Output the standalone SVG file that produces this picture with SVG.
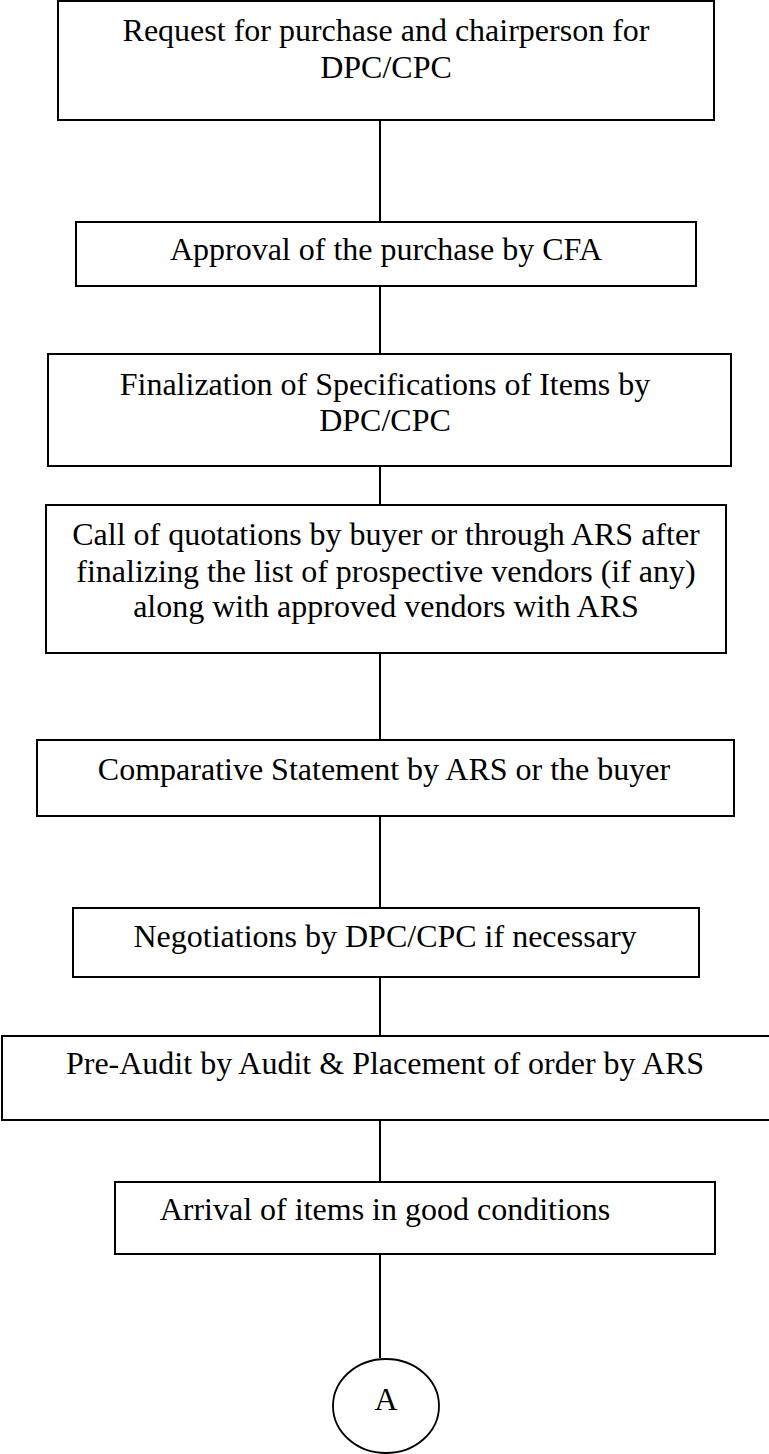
<svg xmlns="http://www.w3.org/2000/svg" width="769" height="1454" viewBox="0 0 769 1454">
<style>
.box{fill:#fff;stroke:#000;stroke-width:2}
.conn line{stroke:#000;stroke-width:2}
text{font-family:"Liberation Serif","Times New Roman",serif;font-size:32px;fill:#000;text-anchor:middle}
</style>
<rect width="769" height="1454" fill="#fff"/>
<g class="conn" id="connectors">
<line x1="380" y1="120" x2="380" y2="222"/>
<line x1="380" y1="286" x2="380" y2="354"/>
<line x1="380" y1="466" x2="380" y2="505"/>
<line x1="380" y1="653" x2="380" y2="740"/>
<line x1="380" y1="816" x2="380" y2="908"/>
<line x1="380" y1="977" x2="380" y2="1036"/>
<line x1="380" y1="1120" x2="380" y2="1182"/>
<line x1="380" y1="1254" x2="380" y2="1358"/>
</g>
<g id="n1"><rect class="box" x="58" y="1" width="656" height="119"/>
<text x="386" y="41">Request for purchase and chairperson for</text>
<text x="386" y="78">DPC/CPC</text></g>
<g id="n2"><rect class="box" x="76" y="222" width="620" height="64"/>
<text x="386" y="260">Approval of the purchase by CFA</text></g>
<g id="n3"><rect class="box" x="48" y="354" width="683" height="112"/>
<text x="385" y="395">Finalization of Specifications of Items by</text>
<text x="385" y="431">DPC/CPC</text></g>
<g id="n4"><rect class="box" x="46" y="505" width="680" height="148"/>
<text x="386" y="545">Call of quotations by buyer or through ARS after</text>
<text x="386" y="582">finalizing the list of prospective vendors (if any)</text>
<text x="386" y="617">along with approved vendors with ARS</text></g>
<g id="n5"><rect class="box" x="37" y="740" width="697" height="76"/>
<text x="384" y="780">Comparative Statement by ARS or the buyer</text></g>
<g id="n6"><rect class="box" x="73" y="908" width="626" height="69"/>
<text x="385" y="947">Negotiations by DPC/CPC if necessary</text></g>
<g id="n7"><rect class="box" x="2" y="1036" width="780" height="84"/>
<text x="385" y="1074">Pre-Audit by Audit &amp; Placement of order by ARS</text></g>
<g id="n8"><rect class="box" x="115" y="1182" width="600" height="72"/>
<text x="385" y="1220">Arrival of items in good conditions</text></g>
<g id="nA"><ellipse cx="386" cy="1406" rx="53" ry="47" fill="#fff" stroke="#000" stroke-width="1.8"/>
<text x="386" y="1410">A</text></g>
</svg>
